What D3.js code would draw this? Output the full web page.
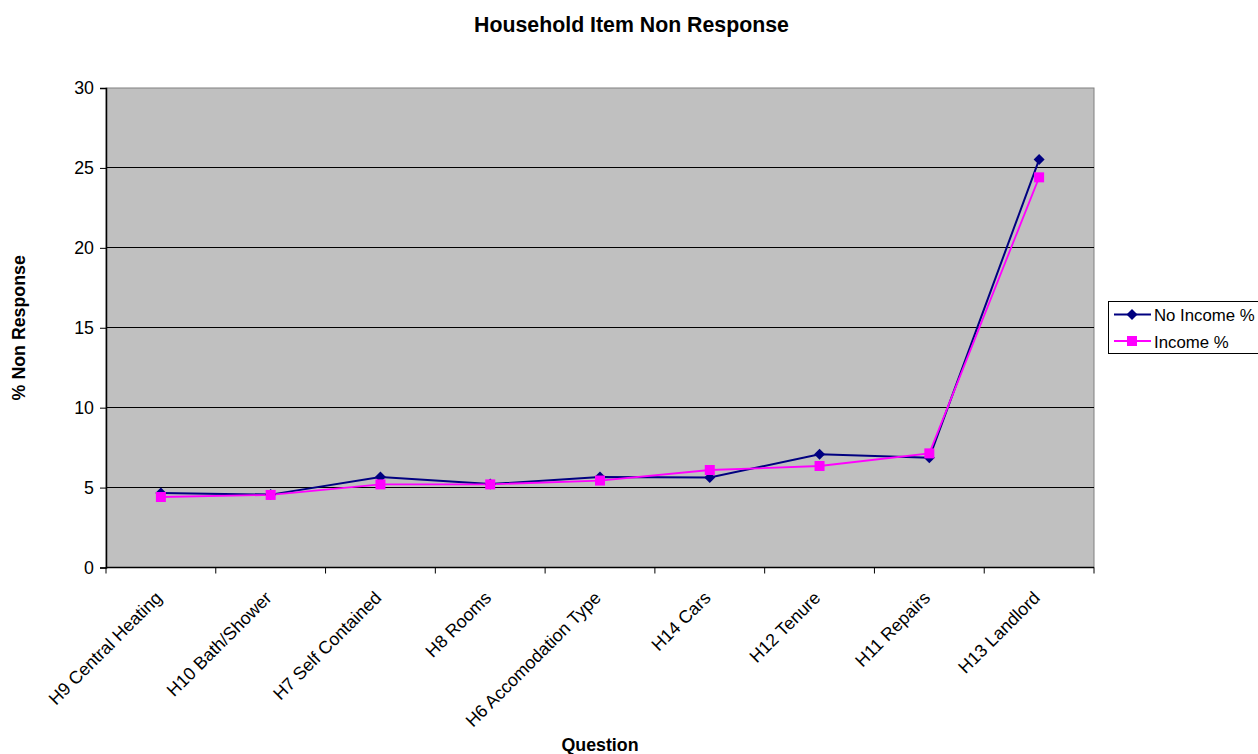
<!DOCTYPE html>
<html>
<head>
<meta charset="utf-8">
<script src="https://cdn.jsdelivr.net/npm/d3@7/dist/d3.min.js"></script>
<style>
  html, body { margin: 0; padding: 0; background: #fff; }
  svg { display: block; }
  text { font-family: Arial, "Liberation Sans", sans-serif; fill: #000; }
</style>
</head>
<body>
<svg id="chart" width="1258" height="754"></svg>
<script>
const categories = ["H9 Central Heating", "H10 Bath/Shower", "H7 Self Contained", "H8 Rooms",
  "H6 Accomodation Type", "H14 Cars", "H12 Tenure", "H11 Repairs", "H13 Landlord"];
const noIncome = [4.66, 4.56, 5.66, 5.22, 5.66, 5.63, 7.08, 6.87, 25.52];
const income   = [4.41, 4.54, 5.20, 5.20, 5.44, 6.10, 6.35, 7.14, 24.41];
const yTicks = [0, 5, 10, 15, 20, 25, 30];
const seriesNames = ["No Income %", "Income %"];
const seriesColors = ["#000080", "#FF00FF"];

const FS = 17.8;
const svg = d3.select("#chart");
const L = 106, R = 1094, T = 88, B = 567.5;

const x = d3.scaleBand().domain(categories).range([L, R]).paddingInner(0).paddingOuter(0);
const y = d3.scaleLinear().domain([0, 30]).range([B, T]);
const cx = c => x(c) + x.bandwidth() / 2;

// plot background
svg.append("rect").attr("x", L).attr("y", T).attr("width", R - L).attr("height", B - T)
  .attr("fill", "#C0C0C0").attr("stroke", "#808080").attr("stroke-width", 1);

// gridlines
svg.append("g").selectAll("line").data(yTicks.filter(t => t > 0 && t < 30)).join("line")
  .attr("x1", L).attr("x2", R).attr("y1", d => y(d)).attr("y2", d => y(d))
  .attr("stroke", "#000").attr("stroke-width", 1).attr("shape-rendering", "crispEdges");

// y axis
const yAxis = svg.append("g").attr("transform", `translate(${L},0)`)
  .call(d3.axisLeft(y).tickValues(yTicks).tickSize(6).tickPadding(6).tickFormat(d3.format("d")));
yAxis.select(".domain").attr("stroke", "#000").attr("stroke-width", 1.5);
yAxis.selectAll(".tick line").attr("stroke", "#000");
yAxis.selectAll("text").attr("font-size", FS).attr("font-family", "Arial, 'Liberation Sans', sans-serif").attr("fill", "#000");

// x axis
const boundaries = categories.map(c => x(c)).concat([R]);
svg.append("line").attr("x1", L).attr("x2", R).attr("y1", B).attr("y2", B)
  .attr("stroke", "#000").attr("stroke-width", 1.5);
svg.append("g").selectAll("line").data(boundaries).join("line")
  .attr("x1", d => d).attr("x2", d => d).attr("y1", B).attr("y2", B + 6)
  .attr("stroke", "#000").attr("stroke-width", 1);

svg.append("g").selectAll("text").data(categories).join("text")
  .attr("transform", c => `translate(${cx(c) + 2},${599}) rotate(-45)`)
  .attr("text-anchor", "end")
  .attr("font-size", FS)
  .text(c => c);

// lines
const line = d3.line().x((d, i) => cx(categories[i])).y(d => y(d));
[noIncome, income].forEach((vals, si) => {
  svg.append("path").datum(vals).attr("d", line)
    .attr("fill", "none").attr("stroke", seriesColors[si]).attr("stroke-width", si === 0 ? 2 : 1.8);
});

// markers
const diamond = (px, py, r) => `M${px},${py - r}L${px + r},${py}L${px},${py + r}L${px - r},${py}Z`;
svg.append("g").selectAll("path").data(noIncome).join("path")
  .attr("d", (d, i) => diamond(cx(categories[i]), y(d), 5.5))
  .attr("fill", seriesColors[0]);
svg.append("g").selectAll("rect").data(income).join("rect")
  .attr("x", (d, i) => cx(categories[i]) - 5).attr("y", d => y(d) - 5)
  .attr("width", 10).attr("height", 10)
  .attr("fill", seriesColors[1]);

// title
svg.append("text").attr("x", 631.5).attr("y", 32).attr("text-anchor", "middle")
  .attr("font-size", 21.3).attr("font-weight", "bold").text("Household Item Non Response");

// axis titles
svg.append("text").attr("transform", `translate(25,${(T + B) / 2}) rotate(-90)`)
  .attr("text-anchor", "middle").attr("font-size", FS).attr("font-weight", "bold").text("% Non Response");
svg.append("text").attr("x", 600).attr("y", 751).attr("text-anchor", "middle")
  .attr("font-size", FS).attr("font-weight", "bold").text("Question");

// legend
const lg = svg.append("g");
lg.append("rect").attr("x", 1108.5).attr("y", 301.5).attr("width", 160).attr("height", 52)
  .attr("fill", "#fff").attr("stroke", "#000").attr("stroke-width", 1);
const rows = [314.5, 341];
seriesNames.forEach((name, i) => {
  const yy = rows[i];
  lg.append("line").attr("x1", 1114).attr("x2", 1151).attr("y1", yy).attr("y2", yy)
    .attr("stroke", seriesColors[i]).attr("stroke-width", 2);
  if (i === 0) {
    lg.append("path").attr("d", diamond(1132, yy, 5.5)).attr("fill", seriesColors[0]);
  } else {
    lg.append("rect").attr("x", 1127).attr("y", yy - 5).attr("width", 10).attr("height", 10).attr("fill", seriesColors[1]);
  }
  lg.append("text").attr("x", 1154).attr("y", yy + 6.5).attr("font-size", 16.8).text(name);
});
</script>
</body>
</html>
